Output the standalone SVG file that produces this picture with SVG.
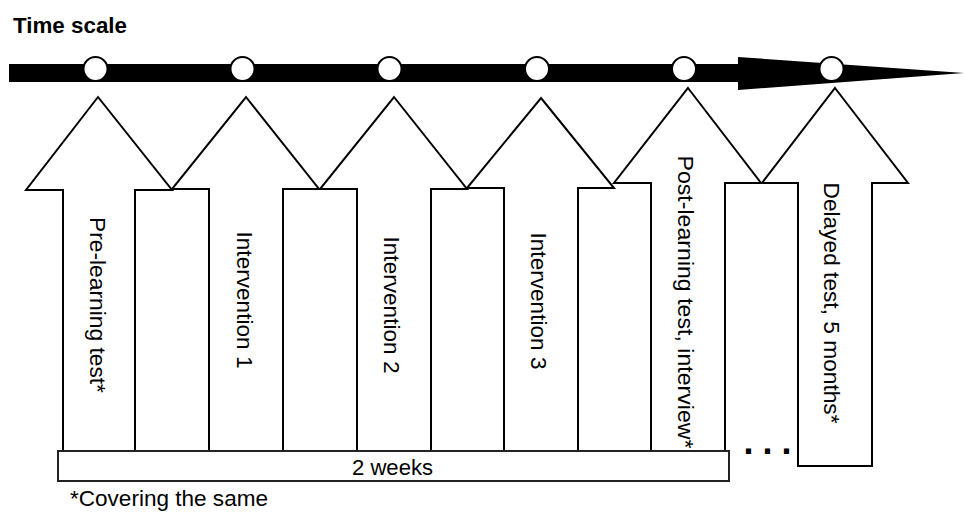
<svg xmlns="http://www.w3.org/2000/svg" width="965" height="513" viewBox="0 0 965 513">
<style>
.arrow{fill:#fff;stroke:#000;stroke-width:2;stroke-linejoin:miter}
.lbl{font-family:"Liberation Sans",Arial,sans-serif;font-size:22px;fill:#000}
.circ{fill:#fff;stroke:#000;stroke-width:2}
</style>
<rect width="965" height="513" fill="#fff"/>
<text x="13" y="33" class="lbl" font-weight="bold" font-size="21" textLength="114" lengthAdjust="spacingAndGlyphs">Time scale</text>
<g id="timeline">
<rect x="9" y="64" width="730" height="18" fill="#000"/>
<polygon points="738,57 964,73 738,90" fill="#000"/>
<circle class="circ" cx="95.5" cy="69" r="12"/>
<circle class="circ" cx="242.5" cy="69" r="12"/>
<circle class="circ" cx="389.5" cy="69" r="12"/>
<circle class="circ" cx="537" cy="69" r="12"/>
<circle class="circ" cx="684" cy="69" r="12"/>
<circle class="circ" cx="831.5" cy="69" r="12"/>
</g>
<g id="arrow1">
<polygon class="arrow" points="98,97 172,190 135,190 135,451 63,451 63,190 26,190"/>
<text class="lbl" text-anchor="middle" textLength="176" lengthAdjust="spacingAndGlyphs" transform="translate(90,305) rotate(90)">Pre-learning test*</text>
</g>
<g id="arrow2">
<polygon class="arrow" points="246,97 319,189 283,189 283,451 209,451 209,189 172,189"/>
<text class="lbl" text-anchor="middle" textLength="137" lengthAdjust="spacingAndGlyphs" transform="translate(237,300) rotate(90)">Intervention 1</text>
</g>
<g id="arrow3">
<polygon class="arrow" points="394,97 467,189 431,189 431,451 357,451 357,189 320,189"/>
<text class="lbl" text-anchor="middle" textLength="137" lengthAdjust="spacingAndGlyphs" transform="translate(384,305) rotate(90)">Intervention 2</text>
</g>
<g id="arrow4">
<polygon class="arrow" points="541,98 614,188 578,188 578,451 504,451 504,188 467,188"/>
<text class="lbl" text-anchor="middle" textLength="137" lengthAdjust="spacingAndGlyphs" transform="translate(531,301) rotate(90)">Intervention 3</text>
</g>
<g id="arrow5">
<polygon class="arrow" points="688,88 761,183 725,183 725,451 651,451 651,183 614,183"/>
<text class="lbl" text-anchor="middle" textLength="293" lengthAdjust="spacingAndGlyphs" transform="translate(678,302) rotate(90)">Post-learning test, interview*</text>
</g>
<g id="arrow6">
<polygon class="arrow" points="835,88 908,183 872,183 872,466 798,466 798,183 762,183"/>
<text class="lbl" text-anchor="middle" textLength="241" lengthAdjust="spacingAndGlyphs" transform="translate(824,303) rotate(90)">Delayed test, 5 months*</text>
</g>
<g id="duration">
<rect x="58" y="451" width="671" height="30" fill="#fff" stroke="#222" stroke-width="2"/>
<text x="392.5" y="475" class="lbl" font-size="20" text-anchor="middle" textLength="81" lengthAdjust="spacingAndGlyphs">2 weeks</text>
</g>
<g id="ellipsis">
<text x="743.5" y="454" font-family="'Liberation Sans',Arial,sans-serif" font-weight="bold" font-size="36" letter-spacing="9">...</text>
</g>
<g id="footnote">
<text x="70" y="506" class="lbl" font-size="20" textLength="198" lengthAdjust="spacingAndGlyphs">*Covering the same</text>
</g>
</svg>
